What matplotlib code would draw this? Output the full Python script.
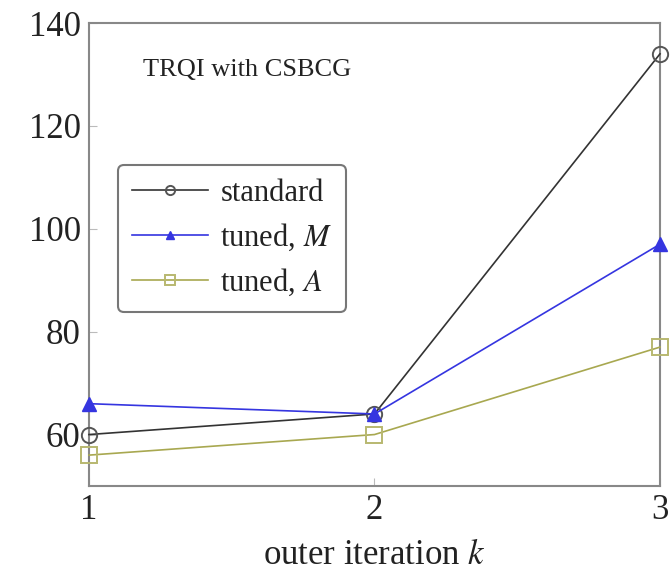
import matplotlib
matplotlib.use("Agg")
import matplotlib.pyplot as plt

x = [1, 2, 3]
standard = [60, 64, 134]
tuned_M = [66, 64, 97]
tuned_A = [56, 60, 77]
yticks = [60, 80, 100, 120, 140]
xticks = [1, 2, 3]

plt.rcParams['font.family'] = ['Liberation Serif', 'DejaVu Serif']
plt.rcParams['mathtext.fontset'] = 'stix'

fig = plt.figure(figsize=(6.71, 5.75), dpi=100)
ax = fig.add_axes([0.1326, 0.1548, 0.8510, 0.8052])

ax.plot(x, standard, color='#333333', lw=1.2, marker='o', ms=11, mfc='none',
        mec='#555555', mew=1.4, label='standard', clip_on=False, zorder=3)
ax.plot(x, tuned_M, color='#3535e0', lw=1.2, marker='^', ms=10, mfc='#3535e0',
        mec='#3535e0', label=r'tuned, $M$', clip_on=False, zorder=3)
ax.plot(x, tuned_A, color='#a8a850', lw=1.2, marker='s', ms=11, mfc='none',
        mec='#b8b870', mew=1.4, label=r'tuned, $A$', clip_on=False, zorder=3)

ax.set_xlim(1, 3)
ax.set_ylim(50, 140)
ax.set_xticks(xticks)
ax.set_yticks(yticks)
ax.tick_params(direction='in', length=6, color='#bbbbbb', labelsize=25,
               labelcolor='#222222', pad=6)
ax.tick_params(axis='x', pad=6)
for s in ax.spines.values():
    s.set_color('#888888')
    s.set_linewidth(1.5)

ax.set_xlabel(r'outer iteration $k$', fontsize=25, color='#222222', va='center')
ax.xaxis.set_label_coords(0.5, -0.15)
ax.text(0.0946, 0.898, 'TRQI with CSBCG', transform=ax.transAxes, fontsize=19,
        va='center', ha='left', color='#222222')

leg = ax.legend(loc='upper left', bbox_to_anchor=(0.0508, 0.693), borderaxespad=0,
                fontsize=22, frameon=True, fancybox=True, edgecolor='#555555',
                handlelength=2.5, handletextpad=0.4, borderpad=0.45,
                labelspacing=0.45, markerscale=0.6)
leg.get_frame().set_linewidth(1.5)
for t in leg.get_texts():
    t.set_color('#222222')

fig.savefig('out.png', dpi=100)
